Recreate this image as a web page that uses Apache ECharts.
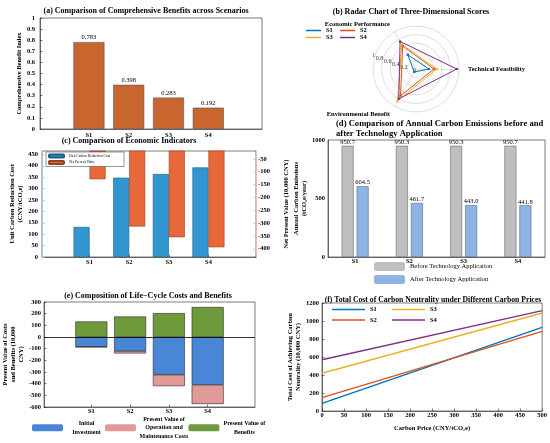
<!DOCTYPE html>
<html>
<head>
<meta charset="utf-8">
<script src="https://cdn.jsdelivr.net/npm/echarts@6/dist/echarts.min.js"></script>
<style>
html, body { margin: 0; padding: 0; background: #fff; }
#chart { width: 550px; height: 443px; }
</style>
</head>
<body>
<div id="chart"></div>
<script>
// ---- data ----
var scenarios = ['S1', 'S2', 'S3', 'S4'];
var benefitIndex = [0.783, 0.398, 0.283, 0.192];

var radarAxes = ['Technical Feasibility', 'Economic Performance', 'Environmental Benefit'];
var radarS1 = [0.30, 0.38, 0.08];
var radarS2 = [0.42, 0.62, 0.72];
var radarS3 = [0.48, 0.66, 0.86];
var radarS4 = [0.95, 0.74, 0.80];

var unitCost = [132, 348, 364, 393];      // CNY/tCO2e
var npvValue = [-129, -313, -355, -394];  // 10,000 CNY

var emisBefore = [950.7, 950.3, 950.3, 950.7];
var emisAfter = [604.5, 461.7, 443.0, 441.8];

var initInvest = [-84, -121, -323, -410];
var omCost = [-4, -20, -98, -164];
var benefitPV = [133, 176, 205, 257];

var carbonPrice = [0, 500];
var totalS1 = [85, 929];
var totalS2 = [149, 885];
var totalS3 = [420, 1089];
var totalS4 = [569, 1115];

var FONT = 'Liberation Serif';
var C1 = '#0072BD', C2 = '#D95319', C3 = '#EDB120', C4 = '#7E2F8E';

var chart = echarts.init(document.getElementById('chart'));

// scenario index -> [x, y] pairs for value type x axes
function pos(arr) {
    return arr.map(function (v, i) { return [i + 1, v]; });
}
// same but value first, so stacking works on the y dimension
function posYX(arr) {
    return arr.map(function (v, i) { return [v, i + 1]; });
}

function plain(v) { return String(v); }

function axis(extra) {
    var a = {
        axisLine: { show: true, onZero: false, lineStyle: { color: '#262626', width: 0.6 } },
        axisTick: { show: true, inside: true, length: 2.5, lineStyle: { color: '#262626', width: 0.6 } },
        axisLabel: { fontFamily: FONT, fontSize: 6.5, fontWeight: 'bold', color: '#000', margin: 3, formatter: plain },
        splitLine: { show: false },
        nameTextStyle: { fontFamily: FONT, fontSize: 6.5, fontWeight: 'bold', color: '#000', lineHeight: 8 }
    };
    for (var k in extra) {
        if (a[k] && typeof a[k] === 'object' && !Array.isArray(extra[k])) {
            a[k] = Object.assign({}, a[k], extra[k]);
        } else {
            a[k] = extra[k];
        }
    }
    return a;
}

function scenAxis(grid, min, max, margin) {
    return axis({
        gridIndex: grid, type: 'value', min: min, max: max,
        axisLabel: {
            customValues: [1, 2, 3, 4], margin: margin,
            formatter: function (v) { return scenarios[v - 1] || ''; }
        },
        axisTick: { customValues: [1, 2, 3, 4] }
    });
}

function title(text, x, y, size, align) {
    return {
        type: 'text', x: x, y: y, silent: true,
        style: {
            text: text, fill: '#000',
            font: 'bold ' + size + 'px "' + FONT + '"',
            align: align || 'center', verticalAlign: 'middle',
            textAlign: align || 'center', textVerticalAlign: 'middle'
        }
    };
}

var labelFont = { fontFamily: FONT, fontSize: 6.5, color: '#000' };
var box = { show: true, borderColor: '#262626', borderWidth: 0.6 };

var option = {
    backgroundColor: '#fff',
    animation: false,
    textStyle: { fontFamily: FONT },
    graphic: [
        title('(a) Comparison of Comprehensive Benefits across Scenarios', 146, 11, 8),
        title('(b) Radar Chart of Three-Dimensional Scores', 411, 12, 8),
        title('(c) Comparison of Economic Indicators', 129, 141, 8),
        title('(d) Comparison of Annual Carbon Emissions before and', 336, 124, 8.6, 'left'),
        title('after Technology Application', 336, 134, 8.6, 'left'),
        title('(e) Composition of Life\u2212Cycle Costs and Benefits', 148, 296, 8),
        title('(f) Total Cost of Carbon Neutrality under Different Carbon Prices', 433, 300, 7.7)
    ],
    grid: [
        Object.assign({ left: 40, top: 18, width: 222, height: 111 }, box),
        Object.assign({ left: 42, top: 151, width: 214, height: 106 }, box),
        Object.assign({ left: 328, top: 140, width: 217, height: 117 }, box),
        Object.assign({ left: 41, top: 302, width: 214, height: 105 }, box),
        Object.assign({ left: 322, top: 303, width: 221, height: 108 }, box)
    ],
    xAxis: [
        scenAxis(0, -0.23, 5.35, 3),
        scenAxis(1, -0.2, 5.2, 2),
        axis({ gridIndex: 2, type: 'category', data: scenarios, axisTick: { show: false }, axisLabel: { margin: 1 } }),
        scenAxis(3, -0.22, 5.22, 1),
        axis({
            gridIndex: 4, type: 'value', min: 0, max: 500, interval: 50,
            axisLabel: { margin: 1 },
            name: 'Carbon Price (CNY/tCO\u2082e)', nameLocation: 'middle', nameGap: 13
        })
    ],
    yAxis: [
        axis({
            gridIndex: 0, type: 'value', min: 0, max: 1, interval: 0.1,
            axisLabel: { margin: 5 },
            name: 'Comprehensive Benefit Index', nameLocation: 'middle', nameGap: 15
        }),
        axis({
            gridIndex: 1, type: 'value', min: 0, max: 465,
            axisLine: { lineStyle: { color: '#9CCBEF', width: 0.8 } },
            axisTick: { customValues: [0, 50, 100, 150, 200, 250, 300, 350, 400, 450], lineStyle: { color: '#9CCBEF' } },
            axisLabel: { margin: 4, customValues: [0, 50, 100, 150, 200, 250, 300, 350, 400, 450] },
            name: 'Unit Carbon Reduction Cost\n(CNY/tCO\u2082e)', nameLocation: 'middle', nameGap: 15
        }),
        axis({
            gridIndex: 1, type: 'value', min: -432, max: -19, position: 'right',
            axisLine: { lineStyle: { color: '#F6B9A2', width: 0.8 } },
            axisTick: { customValues: [-400, -350, -300, -250, -200, -150, -100, -50], lineStyle: { color: '#F6B9A2' } },
            axisLabel: { margin: 2, customValues: [-400, -350, -300, -250, -200, -150, -100, -50] },
            name: 'Net Present Value (10,000 CNY)', nameLocation: 'middle', nameGap: 26
        }),
        axis({
            gridIndex: 2, type: 'value', min: 0, max: 1000, interval: 500,
            axisTick: { show: false },
            name: 'Annual Carbon Emissions\n(tCO\u2082e/year)', nameLocation: 'middle', nameGap: 14
        }),
        axis({
            gridIndex: 3, type: 'value', min: -600, max: 300, interval: 100,
            name: 'Present Value of Costs\nand Benefits (10,000\nCNY)', nameLocation: 'middle', nameGap: 19
        }),
        axis({
            gridIndex: 4, type: 'value', min: 0, max: 1200, interval: 200,
            name: 'Total Cost of Achieving Carbon\nNeutrality (10,000 CNY)', nameLocation: 'middle', nameGap: 13
        })
    ],
    radar: {
        center: [416, 69],
        radius: 43,
        startAngle: 0,
        shape: 'circle',
        splitNumber: 5,
        nameGap: 9,
        indicator: radarAxes.map(function (n) { return { name: n, min: 0, max: 1 }; }),
        axisName: { color: '#000', fontFamily: FONT, fontSize: 6.5, fontWeight: 'bold' },
        splitLine: { lineStyle: { color: '#c8c8c8', width: 0.6 } },
        splitArea: { show: false },
        axisLine: { lineStyle: { color: '#c8c8c8', width: 0.6 } },
        axisTick: { show: false },
        axisLabel: { show: false }
    },
    // polar system only used for the radial tick labels of the radar
    polar: { center: [416, 69], radius: 43 },
    angleAxis: { type: 'value', min: 0, max: 360, startAngle: 160, show: false },
    radiusAxis: {
        type: 'value', min: 0, max: 1, interval: 0.2,
        axisLine: { show: false }, axisTick: { show: false }, splitLine: { show: false },
        axisLabel: { fontFamily: FONT, fontSize: 6, color: '#333', margin: 1 }
    },
    legend: [
        {
            data: ['S1', 'S3'], orient: 'vertical', left: 306, top: 27, padding: 0,
            itemWidth: 15, itemHeight: 1.5, itemGap: 0, icon: 'rect',
            textStyle: { fontFamily: FONT, fontSize: 6.5, fontWeight: 'bold', color: '#000' }
        },
        {
            data: ['S2', 'S4'], orient: 'vertical', left: 340, top: 27, padding: 0,
            itemWidth: 15, itemHeight: 1.5, itemGap: 0, icon: 'rect',
            textStyle: { fontFamily: FONT, fontSize: 6.5, fontWeight: 'bold', color: '#000' }
        },
        {
            data: ['Unit Carbon Reduction Cost', 'Net Present Value'], orient: 'vertical',
            left: 46, top: 152, padding: [1.5, 14, 1.5, 2], itemWidth: 15, itemHeight: 3, itemGap: 1.5,
            borderColor: '#333', borderWidth: 0.5, backgroundColor: '#fff',
            textStyle: { fontFamily: FONT, fontSize: 3.6, color: '#000' }
        },
        {
            data: ['Before Technology Application', 'After Technology Application'], orient: 'vertical',
            left: 374, top: 262, padding: 0, itemWidth: 31, itemHeight: 9, itemGap: 4,
            itemStyle: { borderWidth: 0 },
            textStyle: { fontFamily: FONT, fontSize: 6.5, color: '#000' }
        },
        {
            data: ['Initial Investment', 'Present Value of Operation and Maintenance Costs', 'Present Value of Benefits'],
            left: 32, top: 415, padding: 0, itemWidth: 31, itemHeight: 7, itemGap: 0,
            itemStyle: { borderWidth: 0 },
            formatter: function (n) {
                if (n === 'Initial Investment') return '{i|Initial}\n{i|Investment}';
                if (n === 'Present Value of Benefits') return '{b|Present Value of}\n{b|Benefits}';
                return '{o|Present Value of}\n{o|Operation and}\n{o|Maintenance Costs}';
            },
            textStyle: {
                fontFamily: FONT, fontSize: 6, fontWeight: 'bold', color: '#000', lineHeight: 8.5,
                rich: {
                    i: { width: 37, align: 'center', fontFamily: FONT, fontSize: 6, fontWeight: 'bold', lineHeight: 8.5 },
                    o: { width: 46, align: 'center', fontFamily: FONT, fontSize: 6, fontWeight: 'bold', lineHeight: 8.5 },
                    b: { width: 40, align: 'center', fontFamily: FONT, fontSize: 6, fontWeight: 'bold', lineHeight: 8.5 }
                }
            }
        },
        {
            data: ['S1', 'S2'], orient: 'vertical', left: 332, top: 306, padding: 0,
            itemWidth: 33, itemHeight: 1.5, itemGap: 3.5, icon: 'rect',
            textStyle: { fontFamily: FONT, fontSize: 6.5, fontWeight: 'bold', color: '#000' }
        },
        {
            data: ['S3', 'S4'], orient: 'vertical', left: 392, top: 306, padding: 0,
            itemWidth: 33, itemHeight: 1.5, itemGap: 3.5, icon: 'rect',
            textStyle: { fontFamily: FONT, fontSize: 6.5, fontWeight: 'bold', color: '#000' }
        }
    ],
    series: [
        // (a)
        {
            type: 'bar', xAxisIndex: 0, yAxisIndex: 0, data: pos(benefitIndex), barWidth: 31,
            itemStyle: { color: '#C9652F', borderColor: '#555', borderWidth: 0.6 },
            label: Object.assign({
                show: true, position: 'top', distance: 1,
                formatter: function (p) { return p.value[1].toFixed(3); }
            }, labelFont)
        },
        // (c)
        {
            name: 'Unit Carbon Reduction Cost', type: 'bar', xAxisIndex: 1, yAxisIndex: 1,
            data: pos(unitCost), barWidth: 16, barGap: '0%',
            itemStyle: { color: '#3196D0', borderColor: '#1f5f86', borderWidth: 0.6 }
        },
        {
            name: 'Net Present Value', type: 'bar', xAxisIndex: 1, yAxisIndex: 2, clip: true,
            data: pos(npvValue), barWidth: 16, barGap: '0%',
            itemStyle: { color: '#E8683A', borderColor: '#96401e', borderWidth: 0.6 }
        },
        // (d)
        {
            name: 'Before Technology Application', type: 'bar', xAxisIndex: 2, yAxisIndex: 3,
            data: emisBefore, barWidth: 12, barGap: '25%',
            itemStyle: { color: '#BFBFBF', borderColor: '#6b6b6b', borderWidth: 0.6 },
            label: Object.assign({
                show: true, position: 'top', distance: 0,
                formatter: function (p) { return p.value.toFixed(1); }
            }, labelFont)
        },
        {
            name: 'After Technology Application', type: 'bar', xAxisIndex: 2, yAxisIndex: 3,
            data: emisAfter, barWidth: 12, barGap: '25%',
            itemStyle: { color: '#8DB4E2', borderColor: '#4d6f98', borderWidth: 0.6 },
            label: Object.assign({
                show: true, position: 'top', distance: 0,
                formatter: function (p) { return p.value.toFixed(1); }
            }, labelFont)
        },
        // (e) stacked life-cycle composition
        {
            name: 'Initial Investment', type: 'bar', xAxisIndex: 3, yAxisIndex: 4, stack: 'lcc',
            data: posYX(initInvest), encode: { x: 1, y: 0 }, barWidth: 32,
            itemStyle: { color: '#4A86D6', borderColor: '#2a2a2a', borderWidth: 0.6 }
        },
        {
            name: 'Present Value of Operation and Maintenance Costs', type: 'bar', xAxisIndex: 3, yAxisIndex: 4,
            stack: 'lcc', data: posYX(omCost), encode: { x: 1, y: 0 }, barWidth: 32,
            itemStyle: { color: '#E19A98', borderColor: '#2a2a2a', borderWidth: 0.6 }
        },
        {
            name: 'Present Value of Benefits', type: 'bar', xAxisIndex: 3, yAxisIndex: 4, stack: 'lcc',
            data: posYX(benefitPV), encode: { x: 1, y: 0 }, barWidth: 32,
            itemStyle: { color: '#6E9A3C', borderColor: '#2a2a2a', borderWidth: 0.6 },
            markLine: {
                silent: true, symbol: 'none', label: { show: false },
                lineStyle: { color: '#000', width: 0.8, type: 'solid' },
                data: [{ yAxis: 0 }]
            }
        },
        // (f)
        {
            name: 'S1', type: 'line', xAxisIndex: 4, yAxisIndex: 5, showSymbol: false,
            data: carbonPrice.map(function (x, i) { return [x, totalS1[i]]; }),
            lineStyle: { color: C1, width: 1.4 }, itemStyle: { color: C1 }
        },
        {
            name: 'S2', type: 'line', xAxisIndex: 4, yAxisIndex: 5, showSymbol: false,
            data: carbonPrice.map(function (x, i) { return [x, totalS2[i]]; }),
            lineStyle: { color: C2, width: 1.4 }, itemStyle: { color: C2 }
        },
        {
            name: 'S3', type: 'line', xAxisIndex: 4, yAxisIndex: 5, showSymbol: false,
            data: carbonPrice.map(function (x, i) { return [x, totalS3[i]]; }),
            lineStyle: { color: C3, width: 1.4 }, itemStyle: { color: C3 }
        },
        {
            name: 'S4', type: 'line', xAxisIndex: 4, yAxisIndex: 5, showSymbol: false,
            data: carbonPrice.map(function (x, i) { return [x, totalS4[i]]; }),
            lineStyle: { color: C4, width: 1.4 }, itemStyle: { color: C4 }
        },
        // (b)
        {
            type: 'radar', symbol: 'circle', symbolSize: 2.5,
            data: [
                { name: 'S1', value: radarS1, lineStyle: { color: C1, width: 1 }, itemStyle: { color: C1 } },
                { name: 'S2', value: radarS2, lineStyle: { color: C2, width: 1 }, itemStyle: { color: C2 } },
                { name: 'S3', value: radarS3, lineStyle: { color: C3, width: 1 }, itemStyle: { color: C3 } },
                { name: 'S4', value: radarS4, lineStyle: { color: C4, width: 1 }, itemStyle: { color: C4 } }
            ]
        }
    ]
};

chart.setOption(option);
</script>
</body>
</html>
